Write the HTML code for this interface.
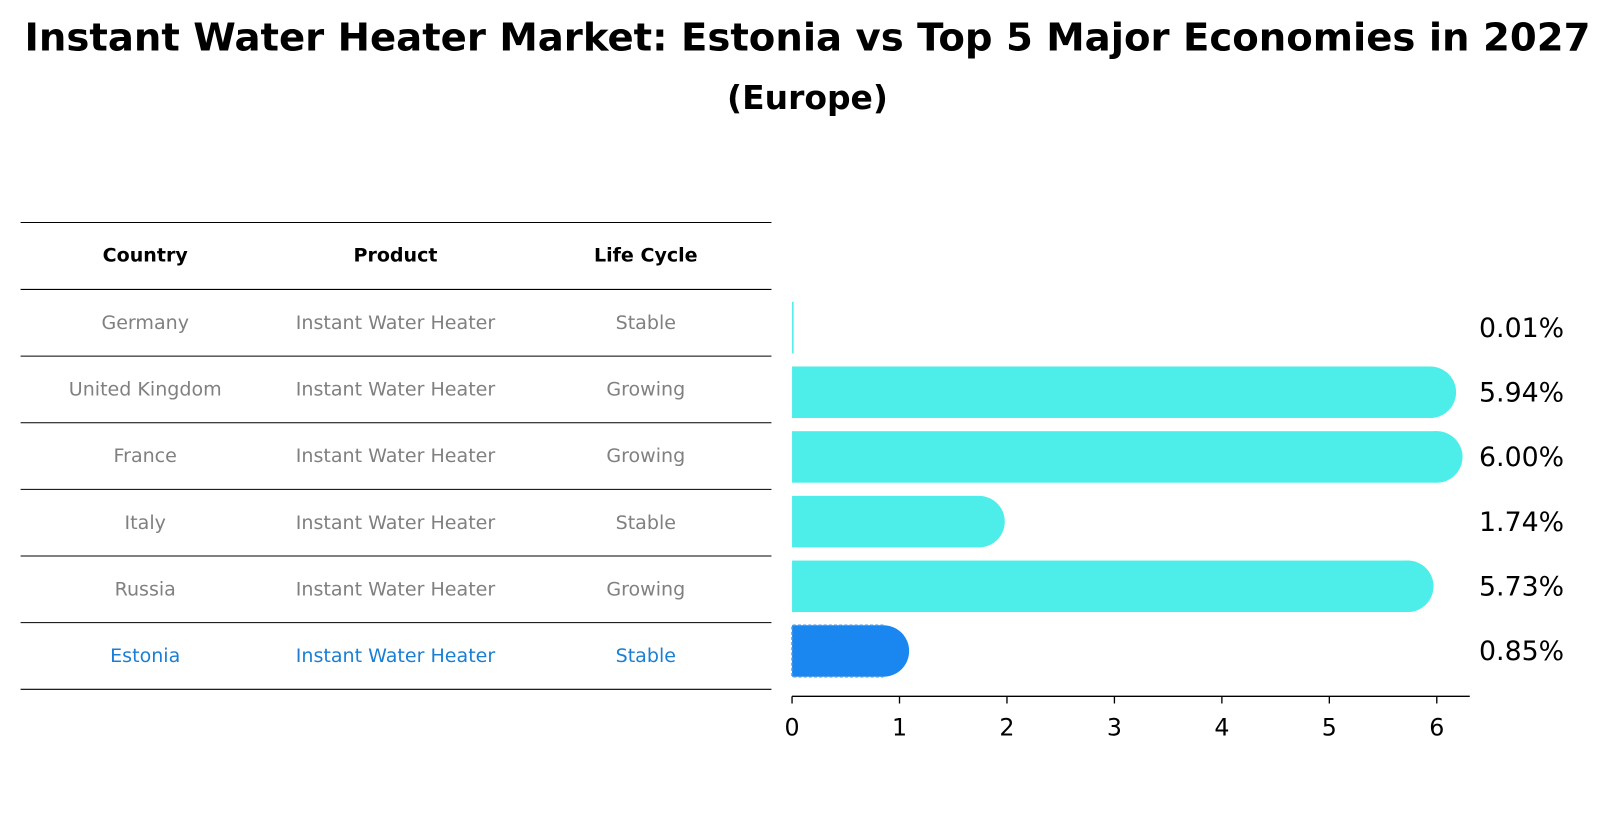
<!DOCTYPE html>
<html><head><meta charset="utf-8"><style>
body{margin:0;background:#fff;font-family:"Liberation Sans","DejaVu Sans",sans-serif;}
svg{display:block}
</style></head><body>
<svg width="1615" height="823" viewBox="0 0 1568 799" preserveAspectRatio="none">
<text x="784" y="49" text-anchor="middle" font-size="37.5" font-weight="bold" font-family="DejaVu Sans, Liberation Sans, sans-serif">Instant Water Heater Market: Estonia vs Top 5 Major Economies in 2027</text>
<text x="784" y="106" text-anchor="middle" font-size="32" font-weight="bold" font-family="DejaVu Sans, Liberation Sans, sans-serif">(Europe)</text>
<g id="table"></g>
<g id="bars"></g>
<g id="axis"></g>
</svg>
<script>
const countries=["Germany","United Kingdom","France","Italy","Russia","Estonia"];
const products=["Instant Water Heater","Instant Water Heater","Instant Water Heater","Instant Water Heater","Instant Water Heater","Instant Water Heater"];
const lifeCycles=["Stable","Growing","Growing","Stable","Growing","Stable"];
const values=[0.01,5.94,6.00,1.74,5.73,0.85];
const ticks=[0,1,2,3,4,5,6];
const NS="http://www.w3.org/2000/svg";
const FF='DejaVu Sans, Liberation Sans, sans-serif';
function mk(t,a,p){const e=document.createElementNS(NS,t);for(const k in a)e.setAttribute(k,a[k]);p.appendChild(e);return e;}
const X0=769,PX=104.33;
function xs(v){return X0+v*PX;}
const rowTop=281,rowH=64.7;
const table=document.getElementById('table');
for(let i=0;i<=7;i++){const y=i==0?216:rowTop+rowH*(i-1);
const l=mk('line',{x1:20,x2:749,y1:y,y2:y,stroke:'#000','stroke-width':1},table);

}
const cols=[141,384,627];
["Country","Product","Life Cycle"].forEach((h,j)=>{const t=mk('text',{x:cols[j],y:254,'text-anchor':'middle','font-size':18.5,'font-weight':'bold','font-family':FF},table);t.textContent=h;

});
countries.forEach((c,i)=>{const y=rowTop+rowH*i+rowH/2+6;const col=i==5?'#1a7fd4':'#808080';
[c,products[i],lifeCycles[i]].forEach((s,j)=>{const t=mk('text',{x:cols[j],y:y,'text-anchor':'middle','font-size':18.5,fill:col,'font-family':FF},table);t.textContent=s;

});});
const bars=document.getElementById('bars');
values.forEach((v,i)=>{const cy=318+i*62.8;const h=50;const col=i==5?'#1a87f0':'#4deeea';
const w=xs(v)-X0;
const g=mk('g',{},bars);


if(v>0.05){mk('rect',{x:X0,y:cy-h/2,width:w,height:h,fill:col},g);
mk('circle',{cx:xs(v),cy:cy,r:h/2,fill:col},g);
if(i==5)mk('path',{d:`M${xs(v)},${cy-h/2} H${X0} V${cy+h/2} H${xs(v)}`,fill:'none',stroke:'#4a9ae8','stroke-width':1.5,'stroke-dasharray':'3,2'},g);}
else mk('rect',{x:X0,y:cy-h/2,width:Math.max(w,1.5),height:h,fill:col},g);
const t=mk('text',{x:1436,y:cy+9,'font-size':26,'font-family':FF},bars);t.textContent=v.toFixed(2)+'%';

});
const ax=document.getElementById('axis');
mk('line',{x1:X0,x2:1427,y1:676,y2:676,stroke:'#000','stroke-width':1.3},ax);
ticks.forEach(v=>{mk('line',{x1:xs(v),x2:xs(v),y1:676,y2:683,stroke:'#000','stroke-width':1.3},ax);
const t=mk('text',{x:xs(v),y:714,'text-anchor':'middle','font-size':23,'font-family':FF},ax);t.textContent=v;

});
</script>
</body></html>
